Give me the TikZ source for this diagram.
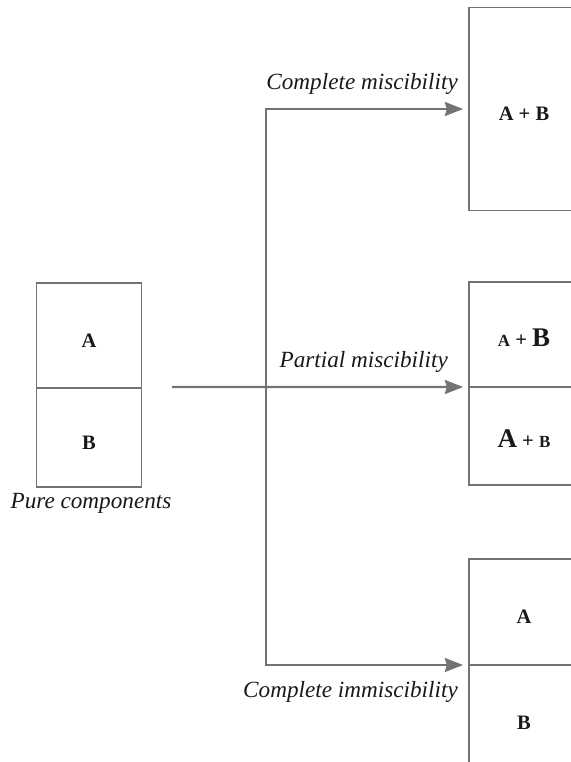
\documentclass[tikz,border=0pt]{standalone}
\usepackage{fontspec}
\setmainfont{Liberation Serif}
\usetikzlibrary{positioning, arrows.meta}
\definecolor{linegray}{gray}{0.45}
\definecolor{inkgray}{gray}{0.1}
\newcommand{\smallsym}[1]{{\fontsize{14.5}{16}\selectfont #1}}
\newcommand{\bigsym}[1]{{\fontsize{23}{24}\selectfont #1}}
\tikzset{
	cell/.style={
		rectangle,
		draw=linegray,
		line width=1.3pt,
		outer sep=0pt,
		minimum width=3.15cm,
		minimum height=3.1cm,
		text=inkgray,
		text height=20pt,
		text depth=0pt,
		font=\fontsize{17.5}{20}\selectfont\bfseries,
		inner sep=0pt,
	},
	mixcell/.style={
		cell,
		minimum width=3.3cm,
	},
	route/.style={
		draw=linegray,
		line width=1.8pt,
	},
	tip/.style={
		>={Stealth[length=0.55cm, width=0.42cm, inset=0.06cm]},
	},
	flow/.style={
		route,
		tip,
		->,
		shorten >=5pt,
	},
	caption/.style={
		text=inkgray,
		font=\fontsize{19.8}{22}\selectfont\itshape,
		inner sep=0pt,
	},
}

\begin{document}
\begin{tikzpicture}[x=0.03cm, y=-0.03cm]
	\useasboundingbox (0,0) rectangle (571,762);
	\clip (0,0) rectangle (571,762);
	
	% pure components
	\node [cell, minimum height=3.15cm] (pureA) at (89,335.5) {A};
	\node [cell, minimum height=2.97cm, below=0pt of pureA] (pureB) {B};
	\node [caption, anchor=base] (pure) at (91,508) {Pure components};
	
	% the three outcomes
	\node [mixcell, minimum height=6.1cm] (mix) at (524,109) {A + B};
	\node [mixcell, minimum height=3.15cm] (partA) at (524,334.5) {\smallsym{A} + \bigsym{B}};
	\node [mixcell, minimum height=2.94cm, below=0pt of partA] (partB) {\bigsym{A} + \smallsym{B}};
	\node [mixcell, minimum height=3.18cm] (immA) at (524,612) {A};
	\node [mixcell, minimum height=3.18cm, below=0pt of immA] (immB) {B};
	
	\coordinate (start) at (172,387);
	\coordinate (fork) at (266,387);
	
	\draw [flow] (start) -- (partA.south west);
	\draw [flow, <->, shorten <=5pt] (mix.west) -| (fork |- immA.south west) -- (immA.south west);
	
	\node [caption, anchor=base east] (fullmix) at (458,90) {Complete miscibility};
	\node [caption, anchor=base east] (partmix) at (448,367) {Partial miscibility};
	\node [caption, anchor=base east] (nomix) at (458,697) {Complete immiscibility};
\end{tikzpicture}
\end{document}
